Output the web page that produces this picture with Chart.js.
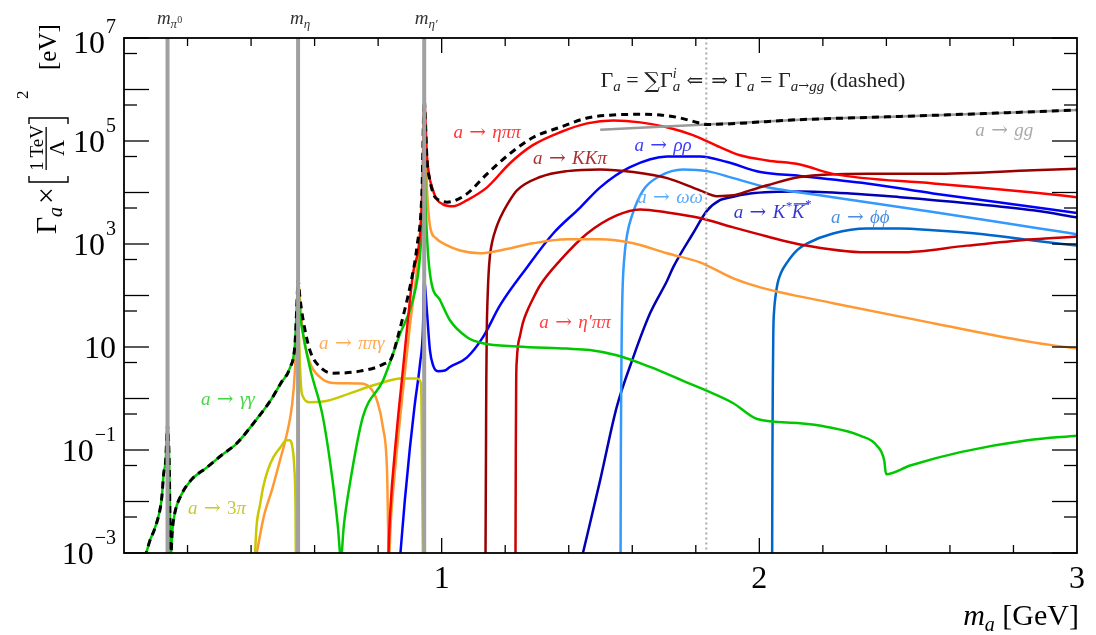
<!DOCTYPE html>
<html lang="en">

<head>
    <meta charset="UTF-8">
    <title>Axion decay widths</title>
    <style>
        body {
            margin: 0;
            background: #fff;
        }

        #wrap {
            width: 1096px;
            height: 635px;
        }
    </style>
</head>

<body>

    <div id="wrap"><canvas id="widthChart" width="1096" height="635"></canvas></div>

    <script src="https://cdn.jsdelivr.net/npm/chart.js"></script>
    <script>
        // axis ticks
        const massTicks = [1, 2, 3];
        const widthExponents = [7, 5, 3, 1, -1, -3];

        // meson masses (GeV) marked by the grey lines
        const mesonMasses = [0.137, 0.548, 0.945];
        const mesonNames = ['π', 'η', 'η′'];
        const ggMatchMass = 1.833;

        // total width (dashed)
        const mTotal = [0.066, 0.081, 0.097, 0.113, 0.119, 0.125, 0.131, 0.137, 0.1425, 0.147, 0.152, 0.160, 0.179, 0.211, 0.261, 0.308, 0.355, 0.418, 0.462, 0.494, 0.522, 0.538, 0.544, 0.548, 0.554, 0.563, 0.585, 0.617, 0.658, 0.743, 0.815, 0.843, 0.859, 0.878, 0.900, 0.922, 0.938, 0.945, 0.954, 0.963, 0.976, 0.995, 1.017, 1.042, 1.080, 1.143, 1.215, 1.287, 1.373, 1.458, 1.540, 1.625, 1.688, 1.751, 1.792, 1.833, 2.128, 2.443, 2.758, 3.0];
        const gTotal = [8e-4, 1.7e-3, 3e-3, 6.8e-3, 1.2e-2, 3.5e-2, 0.06, 0.3, 0.05, 8e-4, 2.7e-3, 6e-3, 1.3e-2, 2.6e-2, 4.6e-2, 8e-2, 0.135, 0.40, 0.93, 2.0, 3.9, 11, 60, 200, 90, 36, 8.7, 4.1, 3.1, 3.4, 4.6, 6.3, 13.5, 38, 145, 870, 1.1e4, 6.2e5, 4.2e4, 1.7e4, 8.7e3, 7e3, 6.5e3, 7e3, 9.5e3, 2.3e4, 5.7e4, 1.17e5, 1.85e5, 2.8e5, 3.2e5, 3.3e5, 3.2e5, 2.8e5, 2.4e5, 2.1e5, 2.6e5, 3.0e5, 3.5e5, 4.0e5];

        // a -> gg
        const mGG = [1.499, 1.833, 2.128, 2.443, 2.758, 3.0];
        const gGG = [1.66e5, 2.1e5, 2.6e5, 3.0e5, 3.5e5, 4.0e5];

        // a -> gamma gamma
        const mGamma = [0.066, 0.081, 0.097, 0.113, 0.119, 0.125, 0.131, 0.137, 0.1425, 0.147, 0.152, 0.160, 0.179, 0.211, 0.261, 0.308, 0.355, 0.418, 0.462, 0.494, 0.522, 0.538, 0.544, 0.548, 0.552, 0.563, 0.585, 0.626, 0.658, 0.673, 0.683, 0.692, 0.711, 0.752, 0.815, 0.869, 0.909, 0.932, 0.941, 0.945, 0.950, 0.963, 0.995, 1.026, 1.080, 1.130, 1.237, 1.394, 1.466, 1.551, 1.656, 1.760, 1.836, 1.918, 1.993, 2.128, 2.213, 2.317, 2.371, 2.393, 2.399, 2.475, 2.633, 2.844, 3.0];
        const gGamma = [8e-4, 1.7e-3, 3e-3, 6.8e-3, 1.2e-2, 3.5e-2, 0.06, 0.3, 0.05, 8e-4, 2.7e-3, 6e-3, 1.3e-2, 2.6e-2, 4.6e-2, 8e-2, 0.135, 0.40, 0.93, 2.0, 3.9, 11, 60, 200, 60, 19, 4, 0.44, 2.2e-2, 3.4e-3, 8e-4, 3.4e-3, 2.2e-2, 0.44, 2.2, 18, 81, 600, 7e3, 6.6e4, 4.5e3, 270, 81, 33, 15.5, 11.8, 10.2, 9.3, 8.7, 6.9, 4.1, 2.2, 1.4, 0.81, 0.40, 0.33, 0.28, 0.19, 0.12, 0.063, 0.034, 0.050, 0.091, 0.155, 0.19];

        // a -> 3 pi
        const m3Pi = [0.412, 0.417, 0.428, 0.438, 0.453, 0.470, 0.491, 0.512, 0.522, 0.529, 0.536, 0.540, 0.541, 0.545, 0.550, 0.557, 0.563, 0.585, 0.626, 0.711, 0.765, 0.815, 0.869, 0.922, 0.935, 0.941];
        const g3Pi = [8e-4, 3.2e-3, 8.5e-3, 1.9e-2, 4.1e-2, 7.2e-2, 0.11, 0.155, 0.155, 0.123, 4.6e-2, 6.8e-3, 8e-4, null, 21, 1.8, 1.1, 0.85, 0.87, 1.26, 1.65, 2.05, 2.45, 2.45, 1.95, 8e-4];

        // a -> pi pi gamma
        const mPiPiGamma = [0.415, 0.441, 0.466, 0.491, 0.513, 0.529, 0.538, 0.544, 0.548, 0.554, 0.563, 0.585, 0.617, 0.658, 0.743, 0.774, 0.796, 0.815, 0.828, 0.834, 0.840, 0.856, 0.878, 0.900, 0.925, 0.938, 0.945, 0.954, 0.963, 0.982, 1.017, 1.058, 1.121, 1.184, 1.287, 1.394, 1.499, 1.603, 1.709, 1.813, 1.918, 2.003, 2.232, 2.547, 2.862, 3.0];
        const gPiPiGamma = [8e-4, 5.4e-3, 1.7e-2, 6.3e-2, 0.21, 0.74, 3.5, 33, 200, 80, 19, 5, 2.6, 2.0, 1.95, 1.65, 0.93, 0.28, 4e-2, 8e-4, 4.3e-3, 6.3e-2, 1.4, 26, 480, 7e3, 4e5, 1.1e4, 2.3e3, 1.3e3, 940, 750, 660, 750, 1.03e3, 1.23e3, 1.23e3, 1.03e3, 660, 440, 215, 144, 71, 29, 12.3, 9.3];

        // a -> eta pi pi
        const mEtaPiPi = [0.832, 0.837, 0.858, 0.879, 0.900, 0.910, 0.932, 0.941, 0.945, 0.954, 0.973, 1.004, 1.036, 1.080, 1.143, 1.215, 1.287, 1.373, 1.458, 1.540, 1.625, 1.709, 1.791, 1.876, 1.939, 2.025, 2.128, 2.232, 2.547, 2.862, 3.0];
        const gEtaPiPi = [8e-4, 4.9e-3, 0.21, 4.1, 81, 270, 1.6e3, 2.3e4, 6.2e5, 4.8e4, 1.1e4, 5.9e3, 5.4e3, 7.1e3, 1.26e4, 3.7e4, 8.3e4, 1.48e5, 2.2e5, 2.5e5, 2.3e5, 1.85e5, 1.3e5, 7.6e4, 5.3e4, 4.2e4, 3.5e4, 2.3e4, 1.5e4, 1.0e4, 8.1e3];

        // a -> K K pi
        const mKKPi = [1.138, 1.1395, 1.1405, 1.142, 1.1443, 1.1474, 1.1521, 1.160, 1.171, 1.184, 1.209, 1.237, 1.310, 1.395, 1.499, 1.603, 1.710, 1.813, 1.867, 1.918, 1.971, 2.025, 2.128, 2.339, 2.547, 2.862, 3.0];
        const gKKPi = [8e-4, 0.1, 2.2, 21, 81, 245, 600, 1.17e3, 2.0e3, 3.2e3, 6.2e3, 1.1e4, 2.0e4, 2.6e4, 2.8e4, 2.5e4, 1.9e4, 1.1e4, 8.5e3, 8.8e3, 1.1e4, 1.38e4, 2.0e4, 2.3e4, 2.3e4, 2.7e4, 2.9e4];

        // a -> eta' pi pi
        const mEtapPiPi = [1.2324, 1.2334, 1.2346, 1.2365, 1.2403, 1.2466, 1.2561, 1.2687, 1.2876, 1.310, 1.373, 1.458, 1.551, 1.625, 1.710, 1.813, 1.918, 2.025, 2.128, 2.339, 2.443, 2.654, 2.862, 3.0];
        const gEtapPiPi = [8e-4, 0.1, 2.2, 5.5, 10.7, 16.6, 30, 49, 87, 158, 480, 1.6e3, 3.6e3, 4.7e3, 4.1e3, 3.2e3, 2.1e3, 1.4e3, 980, 690, 690, 930, 1.23e3, 1.4e3];

        // a -> rho rho
        const mRhoRho = [0.869, 0.884, 0.900, 0.915, 0.932, 0.941, 0.945, 0.954, 0.963, 0.973, 0.988, 1.010, 1.026, 1.080, 1.130, 1.184, 1.269, 1.351, 1.436, 1.499, 1.593, 1.710, 1.814, 1.899, 2.003, 2.128, 2.339, 2.547, 2.758, 3.0];
        const gRhoRho = [8e-4, 1.05e-2, 0.11, 0.74, 4.8, 21, 195, 45, 8.7, 4.4, 3.4, 3.5, 4.1, 6.3, 15.5, 65, 355, 1.6e3, 5.1e3, 1.26e4, 3.1e4, 5e4, 5e4, 3.9e4, 2.5e4, 2.1e4, 1.5e4, 9.6e3, 6.4e3, 4e3];

        // a -> omega omega
        const mOmegaOmega = [1.5632, 1.5641, 1.5654, 1.5669, 1.5694, 1.5742, 1.5836, 1.5994, 1.634, 1.688, 1.760, 1.836, 1.918, 2.025, 2.128, 2.232, 2.547, 2.862, 3.0];
        const gOmegaOmega = [8e-4, 0.1, 2.2, 21, 126, 480, 1.5e3, 3.6e3, 1.1e4, 2.1e4, 2.8e4, 2.6e4, 1.9e4, 1.26e4, 1.0e4, 8.1e3, 4.2e3, 2.1e3, 1.55e3];

        // a -> K* K*bar
        const mKstar = [1.441, 1.499, 1.551, 1.603, 1.656, 1.710, 1.729, 1.791, 1.836, 1.876, 1.899, 1.971, 2.128, 2.286, 2.443, 2.654, 2.862, 3.0];
        const gKstar = [8e-4, 2.6e-2, 0.68, 6.3, 45, 195, 355, 1.6e3, 4.5e3, 7.1e3, 7.8e3, 9.6e3, 1.05e4, 9.6e3, 8.1e3, 6.2e3, 4.5e3, 3.3e3];

        // a -> phi phi
        const mPhiPhi = [2.0403, 2.0413, 2.0425, 2.0441, 2.0466, 2.0513, 2.0576, 2.0687, 2.0876, 2.119, 2.151, 2.232, 2.339, 2.443, 2.547, 2.705, 2.862, 3.0];
        const gPhiPhi = [8e-4, 0.1, 2.2, 21, 51, 100, 174, 280, 440, 760, 1.03e3, 1.6e3, 2.0e3, 2.0e3, 1.85e3, 1.55e3, 1.17e3, 930];

        const SERIF = '"Liberation Serif", "DejaVu Serif", serif';
        const ARROWS = '"DejaVu Serif", serif';
        const fnt = (size, italic, family) => (italic ? 'italic ' : '') + size + 'px ' + (family || SERIF);
        const S = (t, z, i, dy, extra) => Object.assign({ t: t, z: z, i: i, dy: dy || 0 }, extra || {});

        function series(ms, gs) {
            return ms.map((m, i) => ({ x: m, y: gs[i] }));
        }

        function vline(m) {
            return [{ x: m, y: 1e-4 }, { x: m, y: 1e8 }];
        }

        function curve(label, ms, gs, color, order) {
            return {
                label: label,
                data: series(ms, gs),
                borderColor: color,
                borderWidth: 2.5,
                cubicInterpolationMode: 'monotone',
                order: order
            };
        }

        // small rich-text helper: segments with size, italic, baseline shift
        function rich(ctx, segs, x, y, align) {
            let w = 0;
            const ws = segs.map(s => {
                ctx.font = fnt(s.z, s.i, s.f);
                const mw = ctx.measureText(s.t).width;
                if (!s.hold) w += mw;
                return mw;
            });
            let cx = align === 'center' ? x - w / 2 : align === 'right' ? x - w : x;
            ctx.textAlign = 'left';
            ctx.textBaseline = 'alphabetic';
            segs.forEach((s, k) => {
                ctx.font = fnt(s.z, s.i, s.f);
                ctx.fillText(s.t, cx, y + s.dy);
                if (s.over) ctx.fillRect(cx + 2, y + s.dy - s.z * 0.8, ws[k] + 2, 1.3);
                if (!s.hold) cx += ws[k];
            });
        }

        const arrowLabel = (rest) => [S('a', 19, true), S(' → ', 20, false, 0, { f: ARROWS })].concat(rest);

        const decayLabels = [
            { m: 1.143, g: 1.5e5, color: '#ff3535', segs: arrowLabel([S('ηππ', 19, true)]) },
            { m: 1.404, g: 4.6e4, color: '#a83030', segs: arrowLabel([S('KKπ', 19, true)]) },
            { m: 1.697, g: 8.5e4, color: '#3b3bff', segs: arrowLabel([S('ρρ', 19, true)]) },
            { m: 1.719, g: 8.3e3, color: '#5aaaff', segs: arrowLabel([S('ωω', 19, true)]) },
            { m: 2.041, g: 4.1e3, color: '#3535d0', segs: arrowLabel([S('K', 19, true), S('*', 13, true, -8), S('K', 19, true, 0, { over: true }), S('*', 13, true, -10)]) },
            { m: 2.318, g: 3.4e3, color: '#4a8ee0', segs: arrowLabel([S('ϕϕ', 19, true)]) },
            { m: 1.420, g: 30, color: '#ff4040', segs: arrowLabel([S('η′ππ', 19, true)]) },
            { m: 0.717, g: 11.7, color: '#ffaa55', segs: arrowLabel([S('ππγ', 19, true)]) },
            { m: 0.327, g: 1.0, color: '#44d444', segs: arrowLabel([S('γγ', 19, true)]) },
            { m: 0.293, g: 7.4e-3, color: '#c8c832', segs: arrowLabel([S('3', 19, false), S('π', 19, true)]) },
            { m: 2.771, g: 1.6e5, color: '#aaaaaa', segs: arrowLabel([S('gg', 19, true)]) }
        ];

        const decorations = {
            id: 'decorations',
            afterDatasetsDraw(chart) {
                const { ctx, chartArea: a, scales } = chart;
                const x = scales.x, y = scales.y;
                ctx.save();
                ctx.fillStyle = '#000';
                ctx.strokeStyle = '#000';

                const seg = (x1, y1, x2, y2) => {
                    ctx.beginPath(); ctx.moveTo(x1, y1); ctx.lineTo(x2, y2); ctx.stroke();
                };

                // frame
                ctx.lineWidth = 1.8;
                ctx.strokeRect(a.left, a.top, a.right - a.left, a.bottom - a.top);

                // mass ticks every 0.2 GeV, longer on integers
                ctx.lineWidth = 1.3;
                for (let k = 1; k < 15; k++) {
                    const px = x.getPixelForValue(k * 0.2);
                    const len = k % 5 === 0 ? 15 : 8;
                    seg(px, a.bottom, px, a.bottom - len);
                    seg(px, a.top, px, a.top + len);
                }
                // width ticks: decades long, 5x10^n short
                for (let e = -3; e <= 7; e++) {
                    const py = y.getPixelForValue(Math.pow(10, e));
                    seg(a.left, py, a.left + 25, py);
                    seg(a.right, py, a.right - 25, py);
                    if (e < 7) {
                        const pm = y.getPixelForValue(5 * Math.pow(10, e));
                        seg(a.left, pm, a.left + 13, pm);
                        seg(a.right, pm, a.right - 13, pm);
                    }
                }

                // y tick labels
                widthExponents.forEach(e => {
                    const py = y.getPixelForValue(Math.pow(10, e));
                    const base = Math.max(py + 11, 53);
                    const right = 116;
                    ctx.textBaseline = 'alphabetic';
                    if (e === 1) {
                        ctx.font = fnt(32, false);
                        ctx.textAlign = 'right';
                        ctx.fillText('10', right, base);
                        return;
                    }
                    const expText = e < 0 ? '\u2212' + (-e) : String(e);
                    ctx.font = fnt(20, false);
                    const ew = ctx.measureText(expText).width;
                    ctx.textAlign = 'left';
                    ctx.fillText(expText, right - ew, base - 20);
                    ctx.font = fnt(32, false);
                    ctx.textAlign = 'right';
                    ctx.fillText('10', right - ew - 1, base);
                });

                // x tick labels
                ctx.font = fnt(32, false);
                ctx.textAlign = 'center';
                massTicks.forEach(m => ctx.fillText(String(m), x.getPixelForValue(m), 588));

                // x title
                rich(ctx, [S('m', 30, true), S('a', 20, true, 6), S(' [GeV]', 30, false)], 1079, 625, 'right');

                // y title (rotated)
                ctx.save();
                ctx.translate(56, 234);
                ctx.rotate(-Math.PI / 2);
                ctx.textAlign = 'left';
                ctx.font = fnt(30, false);
                ctx.fillText('Γ', 0, 0);
                ctx.font = fnt(20, true);
                ctx.fillText('a', 17, 6);
                ctx.font = fnt(30, false);
                ctx.fillText('×', 30, 0);
                ctx.lineWidth = 1.4;
                ctx.beginPath();
                ctx.moveTo(58, -27); ctx.lineTo(52, -27); ctx.lineTo(52, 12); ctx.lineTo(58, 12);
                ctx.stroke();
                ctx.textAlign = 'center';
                ctx.font = fnt(19, false);
                ctx.fillText('1\u2009TeV', 86, -13);
                ctx.fillRect(64, -10.5, 43, 1.3);
                ctx.font = fnt(22, false);
                ctx.fillText('Λ', 86, 8);
                ctx.beginPath();
                ctx.moveTo(110, -27); ctx.lineTo(116, -27); ctx.lineTo(116, 12); ctx.lineTo(110, 12);
                ctx.stroke();
                ctx.textAlign = 'left';
                ctx.font = fnt(17, false);
                ctx.fillText('2', 135, -28);
                ctx.font = fnt(25, false);
                ctx.fillText('[eV]', 164, 0);
                ctx.restore();

                // meson mass labels above the frame
                ctx.fillStyle = '#333';
                mesonMasses.forEach((m, i) => {
                    const segs = [S('m', 19, true), S(mesonNames[i], 13, true, 4)];
                    if (i === 0) segs.push(S('0', 10, false, -1));
                    rich(ctx, segs, x.getPixelForValue(m) + 2, 24, 'center');
                });

                // formula next to the matching line
                ctx.fillStyle = '#222';
                const lx = x.getPixelForValue(ggMatchMass);
                rich(ctx, [S('Γ', 22, false), S('a', 15, true, 4), S(' = ', 22, false), S('∑', 22, false, 1, { f: ARROWS }),
                    S('Γ', 22, false), S('i', 14, true, -9, { hold: true }), S('a', 15, true, 4), S(' ⇐', 20, false, 0, { f: ARROWS })], lx - 3, 87, 'right');
                rich(ctx, [S('⇒ ', 20, false, 0, { f: ARROWS }), S('Γ', 22, false), S('a', 15, true, 4), S(' = Γ', 22, false),
                    S('a', 15, true, 4), S('→', 13, false, 3, { f: ARROWS }), S('gg', 15, true, 4), S(' (dashed)', 22, false)], lx + 5, 87, 'left');

                // decay channel labels
                decayLabels.forEach(d => {
                    ctx.fillStyle = d.color;
                    rich(ctx, d.segs, x.getPixelForValue(d.m), y.getPixelForValue(d.g) + 6, 'center');
                });

                ctx.restore();
            }
        };

        const ctx = document.getElementById('widthChart').getContext('2d');

        const widthChart = new Chart(ctx, {
            type: 'scatter',
            data: {
                datasets: [
                    // grey meson lines sit on top and hide the narrow resonance peaks
                    { label: 'mpi0', data: vline(mesonMasses[0]), borderColor: '#a0a0a0', borderWidth: 4, order: -1 },
                    { label: 'meta', data: vline(mesonMasses[1]), borderColor: '#a0a0a0', borderWidth: 4, order: -1 },
                    { label: 'metap', data: vline(mesonMasses[2]), borderColor: '#a0a0a0', borderWidth: 4, order: -1 },
                    {
                        label: 'total',
                        data: series(mTotal, gTotal),
                        borderColor: '#000',
                        borderWidth: 3,
                        borderDash: [7, 5],
                        cubicInterpolationMode: 'monotone',
                        order: 0
                    },
                    { label: 'match', data: vline(ggMatchMass), borderColor: '#a8a8a8', borderWidth: 2, borderDash: [2, 3], order: 1 },
                    curve('a->gg', mGG, gGG, '#9a9a9a', 2),
                    curve('a->etapipi', mEtaPiPi, gEtaPiPi, '#ff0000', 2),
                    curve('a->gammagamma', mGamma, gGamma, '#00c800', 3),
                    curve('a->3pi', m3Pi, g3Pi, '#c8c800', 3),
                    curve('a->pipigamma', mPiPiGamma, gPiPiGamma, '#ff9933', 3),
                    curve('a->KKpi', mKKPi, gKKPi, '#990000', 3),
                    curve('a->etappipi', mEtapPiPi, gEtapPiPi, '#cc0000', 3),
                    curve('a->rhorho', mRhoRho, gRhoRho, '#0000ff', 3),
                    curve('a->omegaomega', mOmegaOmega, gOmegaOmega, '#3399ff', 3),
                    curve('a->KstarKstar', mKstar, gKstar, '#0000b4', 3),
                    curve('a->phiphi', mPhiPhi, gPhiPhi, '#0066cc', 3)
                ]
            },
            options: {
                responsive: false,
                devicePixelRatio: 1,
                animation: false,
                showLine: true,
                layout: { padding: { left: 124, right: 19, top: 38, bottom: 82 } },
                elements: { point: { radius: 0, hoverRadius: 0 } },
                plugins: {
                    legend: { display: false },
                    tooltip: { enabled: false }
                },
                scales: {
                    x: { type: 'linear', min: 0, max: 3, display: false },
                    y: { type: 'logarithmic', min: 1e-3, max: 1e7, display: false }
                }
            },
            plugins: [decorations]
        });
    </script>
</body>

</html>
